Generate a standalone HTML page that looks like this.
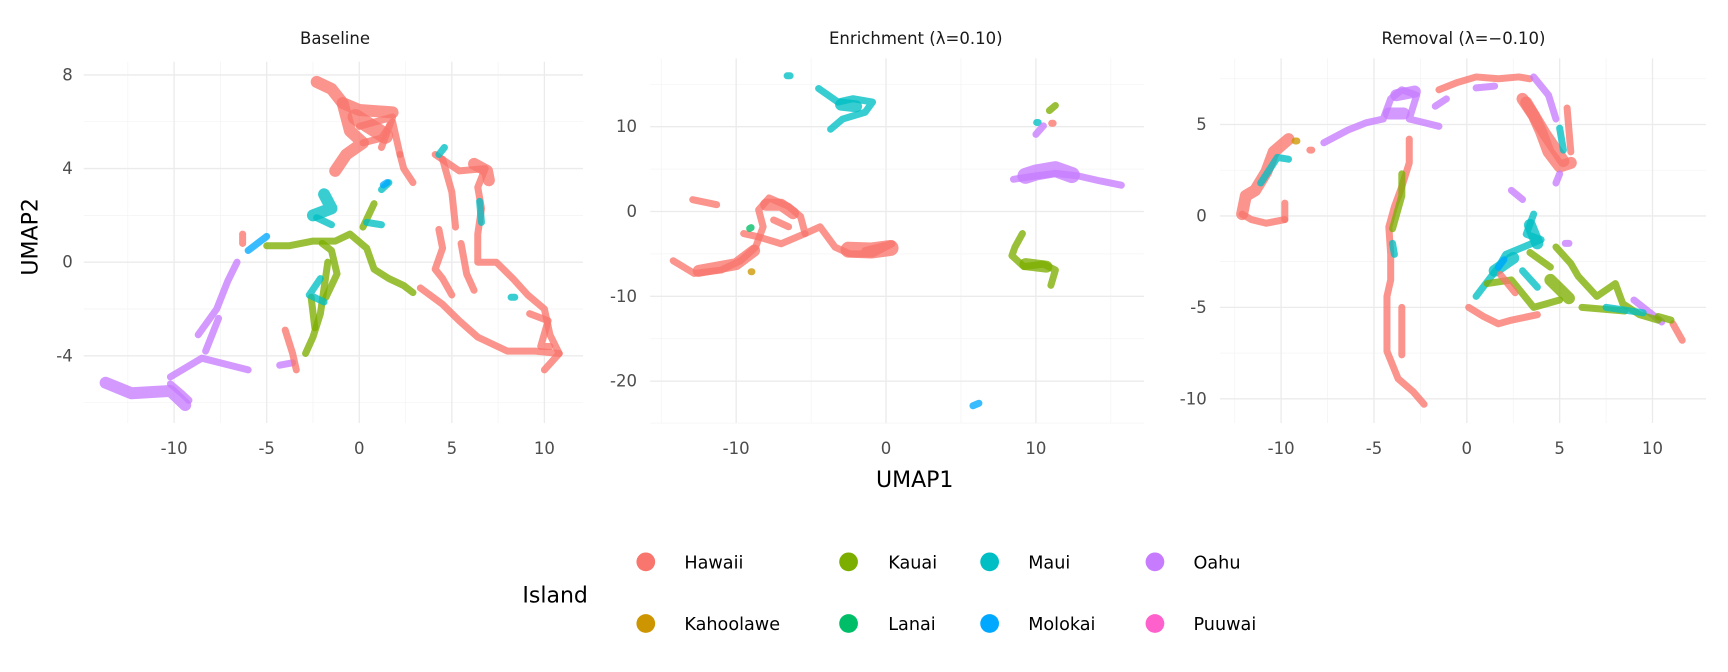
<!DOCTYPE html>
<html><head><meta charset="utf-8"><style>
html,body{margin:0;padding:0;background:#fff;}
svg{display:block;}
text{font-family:"DejaVu Sans","Liberation Sans",sans-serif;}
polyline{fill:none;stroke-linecap:round;stroke-linejoin:round;vector-effect:non-scaling-stroke;stroke-opacity:0.78;}
.H{stroke:#F8766D}.K{stroke:#7CAE00}.M{stroke:#00BFC4}.O{stroke:#C77CFF}.Ka{stroke:#CD9600}.L{stroke:#00BE67}.Mo{stroke:#00A9FF}
.w{stroke-width:7}.t{stroke-width:12}.b{stroke-width:16}
.mj{stroke:#ebebeb;stroke-width:1.2}.mn{stroke:#f3f3f3;stroke-width:0.6}
</style></head><body>
<svg width="1728" height="672" viewBox="0 0 1568 610" preserveAspectRatio="none" xmlns="http://www.w3.org/2000/svg">
<!-- Panel 1 grid -->
<g class="mn">
<line x1="116" x2="116" y1="56" y2="384"/><line x1="200" x2="200" y1="56" y2="384"/><line x1="284" x2="284" y1="56" y2="384"/><line x1="368" x2="368" y1="56" y2="384"/><line x1="452" x2="452" y1="56" y2="384"/>
<line x1="76" x2="529" y1="110.5" y2="110.5"/><line x1="76" x2="529" y1="195.5" y2="195.5"/><line x1="76" x2="529" y1="280.5" y2="280.5"/><line x1="76" x2="529" y1="365.5" y2="365.5"/>
</g>
<g class="mj">
<line x1="158" x2="158" y1="56" y2="384"/><line x1="242" x2="242" y1="56" y2="384"/><line x1="326" x2="326" y1="56" y2="384"/><line x1="410" x2="410" y1="56" y2="384"/><line x1="494" x2="494" y1="56" y2="384"/>
<line x1="76" x2="529" y1="68" y2="68"/><line x1="76" x2="529" y1="153" y2="153"/><line x1="76" x2="529" y1="238" y2="238"/><line x1="76" x2="529" y1="323" y2="323"/>
</g>
<!-- Panel 2 grid -->
<g class="mn">
<line x1="600" x2="600" y1="53" y2="384"/><line x1="736" x2="736" y1="53" y2="384"/><line x1="872" x2="872" y1="53" y2="384"/><line x1="1008" x2="1008" y1="53" y2="384"/>
<line x1="590" x2="1038" y1="76.5" y2="76.5"/><line x1="590" x2="1038" y1="153.5" y2="153.5"/><line x1="590" x2="1038" y1="230.5" y2="230.5"/><line x1="590" x2="1038" y1="307.5" y2="307.5"/><line x1="590" x2="1038" y1="384" y2="384"/>
</g>
<g class="mj">
<line x1="668" x2="668" y1="53" y2="384"/><line x1="804" x2="804" y1="53" y2="384"/><line x1="940" x2="940" y1="53" y2="384"/>
<line x1="590" x2="1038" y1="115" y2="115"/><line x1="590" x2="1038" y1="192" y2="192"/><line x1="590" x2="1038" y1="269" y2="269"/><line x1="590" x2="1038" y1="346" y2="346"/>
</g>
<!-- Panel 3 grid -->
<g class="mn">
<line x1="1120.4" x2="1120.4" y1="53" y2="384"/><line x1="1204.6" x2="1204.6" y1="53" y2="384"/><line x1="1288.9" x2="1288.9" y1="53" y2="384"/><line x1="1373.1" x2="1373.1" y1="53" y2="384"/><line x1="1457.4" x2="1457.4" y1="53" y2="384"/>
<line x1="1107" x2="1548" y1="71.5" y2="71.5"/><line x1="1107" x2="1548" y1="154.5" y2="154.5"/><line x1="1107" x2="1548" y1="237.5" y2="237.5"/><line x1="1107" x2="1548" y1="320.5" y2="320.5"/>
</g>
<g class="mj">
<line x1="1162.5" x2="1162.5" y1="53" y2="384"/><line x1="1246.75" x2="1246.75" y1="53" y2="384"/><line x1="1331" x2="1331" y1="53" y2="384"/><line x1="1415.25" x2="1415.25" y1="53" y2="384"/><line x1="1499.5" x2="1499.5" y1="53" y2="384"/>
<line x1="1107" x2="1548" y1="113" y2="113"/><line x1="1107" x2="1548" y1="196" y2="196"/><line x1="1107" x2="1548" y1="279" y2="279"/><line x1="1107" x2="1548" y1="362" y2="362"/>
</g>

<!-- Panel 1 data -->
<g transform="translate(326,238) scale(16.8,-21.25)">
<polyline class="O t" points="-13.7,-5.15 -12.3,-5.6 -10.2,-5.5 -9.4,-6.1"/>
<polyline class="O w" points="-10.2,-4.9 -8.5,-4.1 -6,-4.6"/>
<polyline class="O w" points="-4.3,-4.4 -3.6,-4.3"/>
<polyline class="O w" points="-10.2,-5.2 -9.6,-5.6 -9.2,-5.9"/>
<polyline class="O w" points="-8.7,-3.1 -7.7,-2 -7.1,-0.8 -6.6,0"/>
<polyline class="O w" points="-8.3,-3.8 -7.6,-2.4"/>
<polyline class="H t" points="-2.3,7.7 -1.5,7.4 -0.9,6.8 0,6.5 1.8,6.4"/>
<polyline class="H t" points="-0.9,6.8 -0.5,5.6 0.2,5.1 -0.7,4.6 -1.3,3.9"/>
<polyline class="H b" points="-0.2,6.2 0.8,5.7 1.4,5.4"/>
<polyline class="H w" points="0,5.8 1.8,6.2 1.2,4.9"/>
<polyline class="H w" points="0.2,5.1 1.2,5.3 1.8,6 2.2,4.6"/>
<polyline class="H w" points="2.2,4.6 2.4,4 2.9,3.4"/>
<polyline class="H w" points="4.1,4.6 5.4,3.9 6.8,4 6.4,3.2 6.6,2.3 6.4,1.2 6.4,0 7.4,0 8.3,-0.7 9.1,-1.4 10,-2 10.3,-3.1 10.8,-3.9 10,-4.6"/>
<polyline class="H t" points="6.2,4.2 6.9,3.9 7,3.5"/>
<polyline class="H w" points="4.5,4.4 5,3 5.2,1.5"/>
<polyline class="H w" points="9.2,-2.2 10.2,-2.5 9.8,-3.6 10.3,-3.6"/>
<polyline class="H w" points="3.3,-1.1 4.5,-1.8 5.4,-2.5 6.4,-3.2 8,-3.8 9.5,-3.8 10.8,-3.9"/>
<polyline class="H w" points="4.3,1.4 4.5,0.6 4.1,-0.3 4.5,-0.7 5,-1.4"/>
<polyline class="H w" points="5.5,0.8 5.8,-0.5 6.2,-1.2"/>
<polyline class="H w" points="-6.3,1.2 -6.3,0.8"/>
<polyline class="H w" points="-4,-2.9 -3.6,-3.9 -3.4,-4.6"/>
<polyline class="K w" points="-5,0.7 -3.8,0.7 -2.5,0.9 -1.3,0.9 -0.5,1.2 0.4,0.6 0.8,-0.3 1.6,-0.7 2.4,-1 2.9,-1.3"/>
<polyline class="K w" points="-1.7,0 -1.9,-1.1 -2.1,-2.2 -2.5,-3.2 -2.9,-3.9"/>
<polyline class="K w" points="-2,0.8 -1.5,0.5 -1.2,-0.5 -1.8,-1.5"/>
<polyline class="K w" points="-2.6,-1.5 -2.4,-2.8"/>
<polyline class="K w" points="0.2,1.5 0.8,2.5"/>
<polyline class="M t" points="-1.9,2.9 -1.5,2.3 -2.5,2"/>
<polyline class="M w" points="-2.3,1.9 -1.5,1.6"/>
<polyline class="M w" points="0.4,1.7 1.2,1.6"/>
<polyline class="M w" points="1.2,3.1 1.6,3.4"/>
<polyline class="M w" points="-2.1,-0.7 -2.7,-1.4 -1.9,-1.7"/>
<polyline class="M w" points="4.3,4.6 4.6,4.9"/>
<polyline class="M w" points="6.6,1.7 6.5,2.6"/>
<polyline class="M w" points="8.2,-1.5 8.4,-1.5"/>
<polyline class="Mo w" points="-6,0.5 -5,1.1"/>
<polyline class="Mo w" points="1.3,3.3 1.5,3.4"/>
</g>

<!-- Panel 2 data -->
<g transform="translate(804,192) scale(13.6,-7.7)">
<polyline class="M w" points="-6.6,16 -6.4,16"/>
<polyline class="M w" points="-4.5,14.5 -3.2,12.9 -2.2,13.3 -0.9,12.9 -1.4,11.7 -2.9,10.9 -3.7,9.7"/>
<polyline class="M t" points="-3,12.6 -2,12.4"/>
<polyline class="M w" points="10.05,10.5 10.15,10.5"/>
<polyline class="O b" points="9.3,4.2 10,4.6 11.3,5 12.4,4.3"/>
<polyline class="O w" points="8.5,3.8 10,4.2 11.3,4.5 12.8,4.2 14.3,3.6 15.7,3.1"/>
<polyline class="O w" points="10,9.1 10.5,10.1"/>
<polyline class="K w" points="9.1,-2.6 8.6,-4.2 8.4,-5.2 9.2,-6.5 10.5,-6.2 11.3,-6.9 11,-8.7"/>
<polyline class="K t" points="9.3,-6.2 10.7,-6.5"/>
<polyline class="K w" points="10.9,11.9 11.3,12.5"/>
<polyline class="H w" points="11.05,10.4 11.15,10.4"/>
<polyline class="H w" points="-12.9,1.4 -11.3,0.8"/>
<polyline class="H w" points="-14.2,-5.8 -12.8,-7.3 -11,-6.9 -9.7,-5.8 -8.7,-4.2 -8.2,-1.8 -8.5,0.2 -7.8,1.6 -6.5,0.6 -5.7,-0.6 -5.4,-2.6 -4.4,-1.8 -3.4,-4.2 -2.4,-5 -0.9,-5 0.4,-3.8 -1.4,-4.6"/>
<polyline class="H t" points="-12.5,-7 -10,-6.2 -8.8,-4.6"/>
<polyline class="H t" points="-8,0.8 -7,0.8 -6.2,-0.2"/>
<polyline class="H w" points="-9.5,-2.6 -8.5,-3 -7,-3.8 -5.4,-2.6"/>
<polyline class="H w" points="-7.5,-1 -6.5,-1.8"/>
<polyline class="H b" points="-2.5,-4.5 -1,-4.6 0.3,-4.3"/>
<polyline class="Mo w" points="5.8,-22.9 6.2,-22.6"/>
<polyline class="L w" points="-9.1,-2 -9.0,-1.9"/>
<polyline class="Ka w" points="-9,-7.1 -8.95,-7.1"/>
</g>

<!-- Panel 3 data -->
<g transform="translate(1331,196) scale(16.85,-16.6)">
<polyline class="H w" points="-12.1,0.1 -11.6,-0.2 -10.8,-0.4 -9.8,-0.2"/>
<polyline class="H t" points="-12.1,0.1 -11.9,1.1 -11.4,1.4 -10.8,2.4 -10.4,3.5 -9.6,4.2"/>
<polyline class="H w" points="-9.8,0.7 -9.8,-0.2"/>
<polyline class="H w" points="-8.45,3.6 -8.35,3.6"/>
<polyline class="M w" points="-11.1,1.8 -10.2,3.2 -9.6,3.1"/>
<polyline class="Ka w" points="-9.25,4.1 -9.15,4.1"/>
<polyline class="O w" points="-7.7,4 -6.4,4.7 -5.4,5.1 -4.5,5.3 -4.1,6.4 -3.5,6.9 -2.7,6.6 -3.1,5.3 -2.3,5.1 -1.5,4.9"/>
<polyline class="O t" points="-4.2,5.6 -3.4,5.6"/>
<polyline class="O t" points="-3.8,6.6 -2.8,6.8"/>
<polyline class="O w" points="-1.7,6 -1.1,6.4"/>
<polyline class="H w" points="-1.5,6.9 -0.5,7.3 0.5,7.6 1.7,7.5 2.8,7.6 3.4,7.5"/>
<polyline class="H t" points="3,6.4 3.6,5.5 4,4.6 4.4,3.5 5,2.7 5.6,2.9"/>
<polyline class="H t" points="3.2,6.2 4.2,4.5 5.2,3"/>
<polyline class="H w" points="5.4,5.9 5.6,3.5"/>
<polyline class="O w" points="3.6,7.6 4.4,6.6 4.8,5.3"/>
<polyline class="O w" points="5,2.3 4.8,1.8"/>
<polyline class="O w" points="0.5,7.0 1.5,7.1"/>
<polyline class="M w" points="5,4.8 5.2,3.6"/>
<polyline class="O w" points="2.4,1.4 3,0.9"/>
<polyline class="O w" points="5.3,-1.5 5.5,-1.5"/>
<polyline class="O w" points="9,-4.6 10.5,-5.8"/>
<polyline class="H w" points="-3.1,4.2 -3.1,2.9 -3.5,1.6 -3.9,0.5 -4.2,-0.6 -4.1,-2.1 -4.1,-3.5 -4.3,-4.4 -4.3,-5.7 -4.3,-7.4 -3.7,-8.9 -2.9,-9.6 -2.3,-10.3"/>
<polyline class="H w" points="-3.5,-7.6 -3.5,-5"/>
<polyline class="K w" points="-3.5,2.3 -3.5,1.1 -4,-0.7"/>
<polyline class="M w" points="-4,-1.5 -3.9,-2.1"/>
<polyline class="M w" points="3.6,0.1 3.2,-1 4,-1.3 2.1,-2.1 1.7,-2.8 0.5,-4.4"/>
<polyline class="M t" points="3.4,-0.5 3.8,-1.5"/>
<polyline class="M t" points="1.5,-3 2.5,-2.3"/>
<polyline class="M w" points="3,-3 3.8,-3.9"/>
<polyline class="K w" points="4.8,-1.7 5.6,-2.6 6,-3.3 7,-4.4 8,-3.7 8.4,-4.8 9.3,-5.4 10.3,-5.7"/>
<polyline class="K t" points="4.5,-3.5 5.5,-4.5"/>
<polyline class="K w" points="5,-4.6 3.6,-5 2.4,-3.5 1.1,-3.7"/>
<polyline class="K w" points="6.2,-5 8.5,-5.2"/>
<polyline class="K w" points="3.4,-2 4.5,-2.8"/>
<polyline class="H w" points="0.1,-5 0.9,-5.5 1.7,-5.9 2.4,-5.7 3.8,-5.4"/>
<polyline class="H w" points="11.1,-5.9 11.6,-6.8"/>
<polyline class="H w" points="1.8,-3.2 2.6,-4.2"/>
<polyline class="Mo w" points="1.7,-2.8 2,-2.4"/>
<polyline class="M w" points="7.5,-5 9.5,-5.3"/>
<polyline class="K w" points="10.3,-5.5 11,-5.7"/>
</g>

<!-- tick labels -->
<g fill="#4d4d4d" font-size="15">
<g text-anchor="end">
<text x="66" y="73">8</text><text x="66" y="158">4</text><text x="66" y="243">0</text><text x="66" y="328">-4</text>
<text x="578" y="120">10</text><text x="578" y="197">0</text><text x="578" y="274">-10</text><text x="578" y="351">-20</text>
<text x="1095" y="118">5</text><text x="1095" y="201">0</text><text x="1095" y="284">-5</text><text x="1095" y="367">-10</text>
</g>
<g text-anchor="middle">
<text x="158" y="412">-10</text><text x="242" y="412">-5</text><text x="326" y="412">0</text><text x="410" y="412">5</text><text x="494" y="412">10</text>
<text x="668" y="412">-10</text><text x="804" y="412">0</text><text x="940" y="412">10</text>
<text x="1162.5" y="412">-10</text><text x="1246.75" y="412">-5</text><text x="1331" y="412">0</text><text x="1415.25" y="412">5</text><text x="1499.5" y="412">10</text>
</g>
</g>

<text x="304" y="40" font-size="15" text-anchor="middle" fill="#1a1a1a">Baseline</text>
<text x="831" y="40" font-size="15" text-anchor="middle" fill="#1a1a1a">Enrichment (λ=0.10)</text>
<text x="1328" y="40" font-size="15" text-anchor="middle" fill="#1a1a1a">Removal (λ=−0.10)</text>
<text x="830" y="442" font-size="20" text-anchor="middle" fill="#000">UMAP1</text>
<text transform="translate(34,215) rotate(-90)" font-size="20" text-anchor="middle" fill="#000">UMAP2</text>
<text x="474" y="547" font-size="20" fill="#000">Island</text>
<g font-size="16" fill="#000">
<circle cx="586" cy="510" r="8.5" fill="#F8766D"/><text x="621" y="516">Hawaii</text>
<circle cx="770" cy="510" r="8.5" fill="#7CAE00"/><text x="806" y="516">Kauai</text>
<circle cx="898" cy="510" r="8.5" fill="#00BFC4"/><text x="933" y="516">Maui</text>
<circle cx="1048" cy="510" r="8.5" fill="#C77CFF"/><text x="1083" y="516">Oahu</text>
<circle cx="586" cy="566" r="8.5" fill="#CD9600"/><text x="621" y="572">Kahoolawe</text>
<circle cx="770" cy="566" r="8.5" fill="#00BE67"/><text x="806" y="572">Lanai</text>
<circle cx="898" cy="566" r="8.5" fill="#00A9FF"/><text x="933" y="572">Molokai</text>
<circle cx="1048" cy="566" r="8.5" fill="#FF61CC"/><text x="1083" y="572">Puuwai</text>
</g>
</svg>
</body></html>
